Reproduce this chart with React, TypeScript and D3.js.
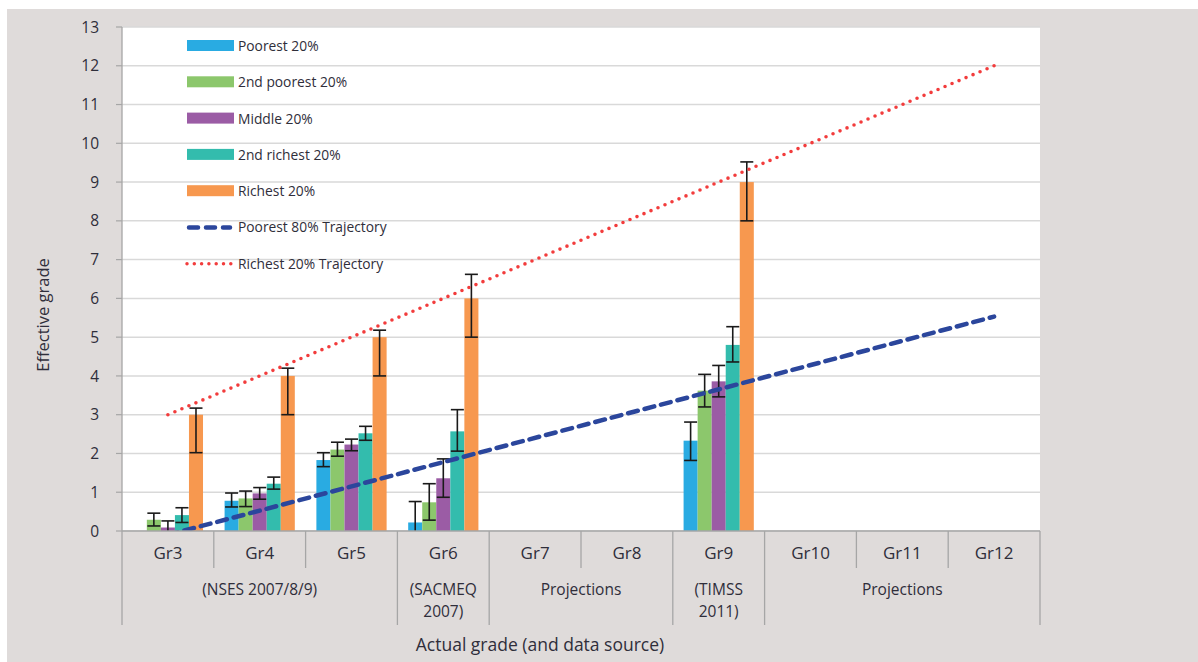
import React from "react";
import * as d3 from "d3";

const categories = ["Gr3", "Gr4", "Gr5", "Gr6", "Gr7", "Gr8", "Gr9", "Gr10", "Gr11", "Gr12"];
const seriesNames = ["Poorest 20%", "2nd poorest 20%", "Middle 20%", "2nd richest 20%", "Richest 20%"];
const seriesColors = ["#29abe2", "#8cc76c", "#9b5ca5", "#33bcad", "#f7984f"];

// values per series, per category (null = no bar)
const poorest = [0, 0.78, 1.83, 0.22, null, null, 2.33, null, null, null];
const secondPoorest = [0.29, 0.84, 2.1, 0.74, null, null, 3.62, null, null, null];
const middle = [0.09, 0.97, 2.23, 1.36, null, null, 3.86, null, null, null];
const secondRichest = [0.41, 1.22, 2.52, 2.57, null, null, 4.8, null, null, null];
const richest = [3, 4, 5, 6, null, null, 9, null, null, null];

// error bar bounds (low, high)
const poorestLow = [null, 0.62, 1.66, -0.3, null, null, 1.82, null, null, null];
const poorestHigh = [null, 0.98, 2.02, 0.76, null, null, 2.81, null, null, null];
const secondPoorestLow = [0.13, 0.63, 1.93, 0.28, null, null, 3.2, null, null, null];
const secondPoorestHigh = [0.46, 1.03, 2.29, 1.22, null, null, 4.04, null, null, null];
const middleLow = [-0.08, 0.82, 2.07, 0.87, null, null, 3.46, null, null, null];
const middleHigh = [0.26, 1.12, 2.37, 1.86, null, null, 4.27, null, null, null];
const secondRichestLow = [0.22, 1.08, 2.34, 2.06, null, null, 4.36, null, null, null];
const secondRichestHigh = [0.6, 1.39, 2.7, 3.13, null, null, 5.27, null, null, null];
const richestLow = [2.02, 3.0, 4.0, 5.0, null, null, 8.0, null, null, null];
const richestHigh = [3.17, 4.2, 5.18, 6.62, null, null, 9.52, null, null, null];

const seriesValues = [poorest, secondPoorest, middle, secondRichest, richest];
const seriesLows = [poorestLow, secondPoorestLow, middleLow, secondRichestLow, richestLow];
const seriesHighs = [poorestHigh, secondPoorestHigh, middleHigh, secondRichestHigh, richestHigh];

// trajectories (endpoints by grade)
const poorTrajectory = [
  { grade: "Gr3", value: -0.1 },
  { grade: "Gr12", value: 5.53 },
];
const richTrajectory = [
  { grade: "Gr3", value: 3 },
  { grade: "Gr12", value: 12 },
];

const yTicks = d3.range(0, 14);

const groups = [
  { from: 0, to: 3, lines: ["(NSES 2007/8/9)"] },
  { from: 3, to: 4, lines: ["(SACMEQ", "2007)"] },
  { from: 4, to: 6, lines: ["Projections"] },
  { from: 6, to: 7, lines: ["(TIMSS", "2011)"] },
  { from: 7, to: 10, lines: ["Projections"] },
];

const legendItems = [
  { label: seriesNames[0], type: "rect", color: seriesColors[0] },
  { label: seriesNames[1], type: "rect", color: seriesColors[1] },
  { label: seriesNames[2], type: "rect", color: seriesColors[2] },
  { label: seriesNames[3], type: "rect", color: seriesColors[3] },
  { label: seriesNames[4], type: "rect", color: seriesColors[4] },
  { label: "Poorest 80% Trajectory", type: "dash", color: "#2b469c" },
  { label: "Richest 20% Trajectory", type: "dot", color: "#f23c3c" },
];

const W = 1198;
const H = 662;
const L = 122;
const R = 1040;
const T = 27;
const B = 531;
const FONT = "'Open Sans', 'Liberation Sans', sans-serif";
const TEXT = "#2f2e3a";

export default function App() {
  const x0 = d3.scaleBand<string>().domain(categories).range([L, R]).padding(0);
  const bw = x0.bandwidth();
  const groupW = bw * 0.765;
  const x1 = d3.scaleBand<number>().domain(d3.range(5)).range([0, groupW]).padding(0);
  const y = d3.scaleLinear().domain([0, 13]).range([B, T]);
  const cx = (g: string) => (x0(g) as number) + bw / 2;

  const line = d3
    .line<{ grade: string; value: number }>()
    .x((d) => cx(d.grade))
    .y((d) => y(d.value));

  const boundary = (i: number) => L + i * bw;
  const longIdx = new Set([0, 3, 4, 6, 7, 10]);

  return (
    <svg
      width={W}
      height={H}
      style={{ position: "absolute", left: 0, top: 0, fontFamily: FONT }}
    >
      <defs>
        <clipPath id="plotclip">
          <rect x={L} y={T - 2} width={R - L} height={B - T + 2} />
        </clipPath>
      </defs>
      <rect x={0} y={0} width={W} height={H} fill="#ffffff" />
      <rect x={7} y={9} width={W - 7} height={H - 9} fill="#dfdbda" />
      <rect x={L} y={T} width={R - L} height={B - T} fill="#ffffff" />

      {/* gridlines */}
      {yTicks.map((t) => (
        <line key={"g" + t} x1={L} x2={R} y1={y(t)} y2={y(t)} stroke="#d9d9d9" strokeWidth={1.5} />
      ))}

      {/* bars */}
      <g clipPath="url(#plotclip)">
        {categories.map((c, ci) =>
          seriesValues.map((vals, si) => {
            const v = vals[ci];
            if (v === null || v === undefined) return null;
            const bx = (x0(c) as number) + (bw - groupW) / 2 + (x1(si) as number);
            return (
              <rect
                key={c + si}
                x={bx}
                y={y(Math.max(v, 0))}
                width={x1.bandwidth()}
                height={y(0) - y(Math.max(v, 0))}
                fill={seriesColors[si]}
              />
            );
          })
        )}
        {/* error bars */}
        {categories.map((c, ci) =>
          seriesValues.map((vals, si) => {
            const lo = seriesLows[si][ci];
            const hi = seriesHighs[si][ci];
            if (lo === null || hi === null) return null;
            const mx = (x0(c) as number) + (bw - groupW) / 2 + (x1(si) as number) + x1.bandwidth() / 2;
            const cap = 6.5;
            return (
              <g key={"e" + c + si} stroke="#1a1a1a" strokeWidth={1.6}>
                <line x1={mx} x2={mx} y1={y(lo)} y2={y(hi)} />
                <line x1={mx - cap} x2={mx + cap} y1={y(lo)} y2={y(lo)} />
                <line x1={mx - cap} x2={mx + cap} y1={y(hi)} y2={y(hi)} />
              </g>
            );
          })
        )}
        {/* trajectories */}
        <path
          d={line(poorTrajectory) || ""}
          fill="none"
          stroke="#2b469c"
          strokeWidth={4.5}
          strokeDasharray="10 7"
          strokeLinecap="round"
        />
        <path
          d={line(richTrajectory) || ""}
          fill="none"
          stroke="#f23c3c"
          strokeWidth={3.6}
          strokeDasharray="0 7.6"
          strokeLinecap="round"
        />
      </g>

      {/* axes */}
      {yTicks.map((t) => (
        <g key={"t" + t}>
          <line x1={L - 6} x2={L} y1={y(t)} y2={y(t)} stroke="#a6a6a6" strokeWidth={1.2} />
          <text
            x={99}
            y={y(t)}
            dy="0.36em"
            textAnchor="end"
            fontSize={15.5}
            fill={TEXT}
          >
            {t}
          </text>
        </g>
      ))}
      <line x1={L} x2={R} y1={B} y2={B} stroke="#a6a6a6" strokeWidth={1.5} />
      {d3.range(0, 11).map((i) => (
        <line
          key={"s" + i}
          x1={boundary(i)}
          x2={boundary(i)}
          y1={i === 0 ? T : B}
          y2={longIdx.has(i) ? 625 : 568}
          stroke="#a6a6a6"
          strokeWidth={1.3}
        />
      ))}
      {categories.map((c) => (
        <text key={"l" + c} x={cx(c)} y={559} textAnchor="middle" fontSize={17} fill={TEXT}>
          {c}
        </text>
      ))}
      {groups.map((g, gi) =>
        g.lines.map((ln, li) => (
          <text
            key={"gr" + gi + li}
            x={(boundary(g.from) + boundary(g.to)) / 2}
            y={595 + li * 22}
            textAnchor="middle"
            fontSize={15.5}
            fill={TEXT}
          >
            {ln}
          </text>
        ))
      )}
      <text x={540} y={651} textAnchor="middle" fontSize={17.5} fill={TEXT}>
        Actual grade (and data source)
      </text>
      <text
        transform={`translate(49,${315}) rotate(-90)`}
        textAnchor="middle"
        fontSize={16.5}
        fill={TEXT}
      >
        Effective grade
      </text>

      {/* legend */}
      {legendItems.map((it, i) => {
        const ly = 46 + i * 36.3;
        return (
          <g key={"lg" + i}>
            {it.type === "rect" && (
              <rect x={187} y={ly - 6} width={47} height={11} fill={it.color} />
            )}
            {it.type === "dash" && (
              <line
                x1={189}
                x2={230}
                y1={ly}
                y2={ly}
                stroke={it.color}
                strokeWidth={4.5}
                strokeDasharray="9 8"
                strokeLinecap="round"
              />
            )}
            {it.type === "dot" && (
              <line
                x1={187}
                x2={231}
                y1={ly}
                y2={ly}
                stroke={it.color}
                strokeWidth={3.5}
                strokeDasharray="0 7.3"
                strokeLinecap="round"
              />
            )}
            <text x={238} y={ly} dy="0.36em" fontSize={13.8} fill={TEXT}>
              {it.label}
            </text>
          </g>
        );
      })}
    </svg>
  );
}
